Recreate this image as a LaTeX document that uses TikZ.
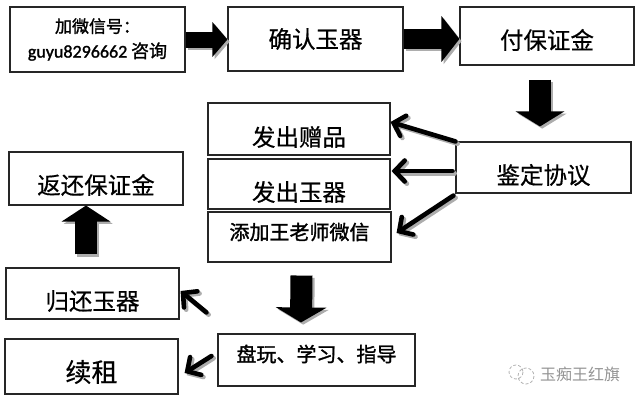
\documentclass[tikz,border=0pt]{standalone}
\usepackage{fontspec}
\setmainfont{Noto Sans CJK SC}[FakeBold=0.5]
\newfontfamily\heavy{Noto Sans CJK SC}[FakeBold=1.4]
\newfontfamily\lat{Carlito}[FakeBold=1.4]
\newfontfamily\wm{Noto Sans CJK SC}
\usetikzlibrary{arrows.meta}
\tikzset{
  box/.style n args={2}{draw=black!85,line width=1.1pt,fill=white,minimum width=#1,minimum height=#2,inner sep=0pt},
  big/.style={font=\fontsize{23.5}{28}\selectfont},
  small/.style={font=\heavy\fontsize{20}{24}\selectfont},
  fat/.style n args={3}{line width=#1,-{Triangle[length=#2,width=#3]}},
  barb/.style={line width=4.6pt,line cap=round,-{Straight Barb[length=10pt,width=21pt,line cap=round]}},
  drop/.style={draw=black!32,transform canvas={shift={(2.2pt,-2.2pt)}}}
}
\newcommand\shadowed[2]{\draw[#1,drop] #2; \draw[#1] #2;}
\begin{document}
\begin{tikzpicture}[x=1pt,y=-1pt]
      \useasboundingbox (0,0) rectangle (640,402);
      \draw
        (97.5,39.5) node[box={175pt}{65pt},align=center,font=\heavy\fontsize{17}{26}\selectfont] (add){加微信号：\\[-1pt]{\lat\fontsize{18}{26}\selectfont guyu8296662} {\fontsize{18}{26}\selectfont 咨询}}
        (315.5,39) node[box={175pt}{64pt},big] (confirm){确认玉器}
        (547,36) node[box={174pt}{58pt},big,label={[big,yshift=-4pt]center:付保证金}] (deposit){}
        (543.5,167.5) node[box={175pt}{51pt},big,label={[big,yshift=-7.5pt]center:鉴定协议}] (appraise){}
        (299,129) node[box={182pt}{52pt},label={[big,yshift=-8pt]center:发出赠品}] (gift){}
        (299,184) node[box={182pt}{50pt},label={[big,yshift=-8pt]center:发出玉器}] (jade){}
        (299.5,237) node[box={183pt}{50pt},label={[small,yshift=5pt]center:添加王老师微信}] (wechat){}
        (96,178.5) node[box={174pt}{53pt},label={[big,yshift=-6.5pt]center:返还保证金}] (refund){}
        (92.5,293.5) node[box={173pt}{51pt},label={[big,yshift=-7.5pt]center:归还玉器}] (back){}
        (91.5,366.5) node[box={173pt}{55pt},label={[font=\fontsize{26}{30}\selectfont,yshift=-5.5pt]center:续租}] (renew){}
        (316.5,360) node[box={197pt}{52pt},label={[small,yshift=6pt]center:盘玩、学习、指导}] (play){};
      \begin{scope}
        \shadowed{fat={16pt}{15pt}{34pt}}{(add.east) to (add.east -| confirm.west)}
        \shadowed{fat={20pt}{18pt}{45pt}}{(confirm.east) to (confirm.east -| deposit.west)}
        \shadowed{fat={22pt}{15pt}{48pt}}{([xshift=-7pt,yshift=-14pt]deposit.south) to ([xshift=-3.5pt,yshift=15pt]appraise.north)}
        \shadowed{fat={22pt}{16pt}{48pt}}{([xshift=-6.5pt,yshift=13pt]back.north) to ([xshift=-10pt]refund.south)}
        \shadowed{fat={22pt}{15pt}{50pt}}{([xshift=2pt,yshift=-13pt]wechat.south) to ([xshift=-15.5pt,yshift=11pt]play.north)}
        \shadowed{barb}{(appraise.north west) to ([yshift=7pt]gift.east)}
        \shadowed{barb}{([xshift=-3pt,yshift=-3.5pt]appraise.west) to ([xshift=1pt,yshift=13pt]jade.east)}
        \shadowed{barb}{([xshift=-2pt,yshift=-2pt]appraise.south west) to ([xshift=5pt,yshift=4pt]wechat.east)}
        \shadowed{barb}{([xshift=-11pt,yshift=21pt]play.north west) to ([xshift=1pt,yshift=2.5pt]back.east)}
        \shadowed{barb}{([xshift=-6pt,yshift=4pt]play.west) to ([xshift=6pt,yshift=-6.5pt]renew.east)}
      \end{scope}
      \draw[black!30,densely dashed,line width=0.8pt] (516,372) circle (7) (526,376) circle (8);
      \node[text=black!42,font=\wm\fontsize{16}{20}\selectfont] (mark) at (580,374) {玉痴王红旗};
    \end{tikzpicture}
\end{document}
